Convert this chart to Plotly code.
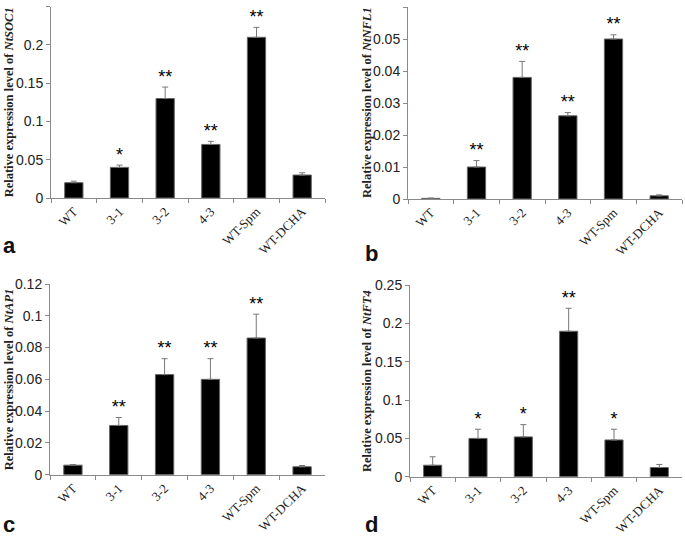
import plotly.graph_objects as go

# sample groups (same for all four panels)
groups = ["WT", "3-1", "3-2", "4-3", "WT-Spm", "WT-DCHA"]

# a: NtSOC1
soc1 = [0.020, 0.040, 0.130, 0.070, 0.210, 0.030]
soc1_err = [0.002, 0.003, 0.015, 0.004, 0.013, 0.003]
soc1_sig = ["", "*", "**", "**", "**", ""]

# b: NtNFL1
nfl1 = [0.0002, 0.010, 0.038, 0.026, 0.050, 0.001]
nfl1_err = [0.0001, 0.002, 0.005, 0.001, 0.0013, 0.0003]
nfl1_sig = ["", "**", "**", "**", "**", ""]

# c: NtAP1
ap1 = [0.006, 0.031, 0.063, 0.060, 0.086, 0.005]
ap1_err = [0.0004, 0.005, 0.010, 0.013, 0.015, 0.0008]
ap1_sig = ["", "**", "**", "**", "**", ""]

# d: NtFT4
ft4 = [0.015, 0.050, 0.052, 0.190, 0.048, 0.012]
ft4_err = [0.011, 0.012, 0.016, 0.030, 0.014, 0.004]
ft4_sig = ["", "*", "*", "**", "*", ""]

panels = [
    # values, errors, stars, gene, y max, y tick step, letter
    (soc1, soc1_err, soc1_sig, "NtSOC1", 0.25, 0.05, "a"),
    (nfl1, nfl1_err, nfl1_sig, "NtNFL1", 0.06, 0.01, "b"),
    (ap1, ap1_err, ap1_sig, "NtAP1", 0.12, 0.02, "c"),
    (ft4, ft4_err, ft4_sig, "NtFT4", 0.25, 0.05, "d"),
]

W, H = 685, 539
# plot boxes in pixels: left, right, top(max tick), bottom(zero)
boxes = [(51, 325, 6.7, 198), (408, 682, 7, 199),
         (50, 325, 284, 474.7), (410, 682, 285.3, 476.7)]
title_x = [9, 367, 9, 367]
letter_pos = [(1, 260), (363, 268), (1, 539), (363, 539)]

AXC = "#8a8a8a"
fig = go.Figure()

for i, (vals, errs, sig, gene, ymax, dt, letter) in enumerate(panels):
    n = "" if i == 0 else str(i + 1)
    xa, ya = "x" + n, "y" + n
    l, r, t, b = boxes[i]

    fig.add_trace(go.Bar(
        x=groups, y=vals, xaxis=xa, yaxis=ya, width=0.4,
        marker=dict(color="black", line=dict(color="#666", width=1)),
        error_y=dict(type="data", array=errs, arrayminus=[0] * len(errs),
                     symmetric=False, color="#777", thickness=1, width=3),
        showlegend=False, hoverinfo="skip"))

    tops = [v + e for v, e in zip(vals, errs)]
    fig.add_trace(go.Scatter(
        x=groups, y=tops, xaxis=xa, yaxis=ya, mode="text", text=sig,
        textposition="top center",
        textfont=dict(family="Liberation Sans", size=18, color="black"),
        showlegend=False, hoverinfo="skip"))

    ticks = [round(k * dt, 4) for k in range(int(round(ymax / dt)) + 1)]
    fig.layout["xaxis" + n] = dict(
        domain=[l / W, r / W], anchor=ya, type="category", automargin=False,
        showline=True, linecolor=AXC, linewidth=1,
        ticks="outside", tickson="boundaries", ticklen=4, tickcolor=AXC,
        tickangle=-45, tickfont=dict(family="Liberation Serif", size=13, color="#222"),
        showgrid=False, zeroline=False, fixedrange=True)
    fig.layout["yaxis" + n] = dict(
        domain=[1 - b / H, 1 - t / H], anchor=xa, range=[0, ymax], automargin=False,
        tickvals=ticks, ticktext=[("%g" % v) for v in ticks],
        showline=True, linecolor=AXC, linewidth=1,
        ticks="outside", ticklen=4, tickcolor=AXC,
        tickfont=dict(family="Liberation Sans", size=14, color="#222"),
        showgrid=False, zeroline=False, fixedrange=True)

    fig.add_annotation(
        x=title_x[i] / W, y=1 - (t + b) / 2 / H, xref="paper", yref="paper",
        text="<b>Relative expression level of <i>%s</i></b>" % gene,
        textangle=-90, showarrow=False, xanchor="center", yanchor="middle",
        font=dict(family="Liberation Serif", size=12.5, color="#222"))

    lx, ly = letter_pos[i]
    fig.add_annotation(
        x=lx / W, y=1 - ly / H, xref="paper", yref="paper", text="<b>%s</b>" % letter,
        showarrow=False, xanchor="left", yanchor="bottom",
        font=dict(family="Liberation Sans", size=22, color="#111"))

fig.update_layout(width=W, height=H, margin=dict(l=0, r=0, t=0, b=0),
                  plot_bgcolor="white", paper_bgcolor="white", bargap=0.6)

# page body has a default 8px margin; drop it so the figure fills the window
fig.write_html("out.html", config={"displayModeBar": False},
               post_script="document.body.style.margin='0';")
